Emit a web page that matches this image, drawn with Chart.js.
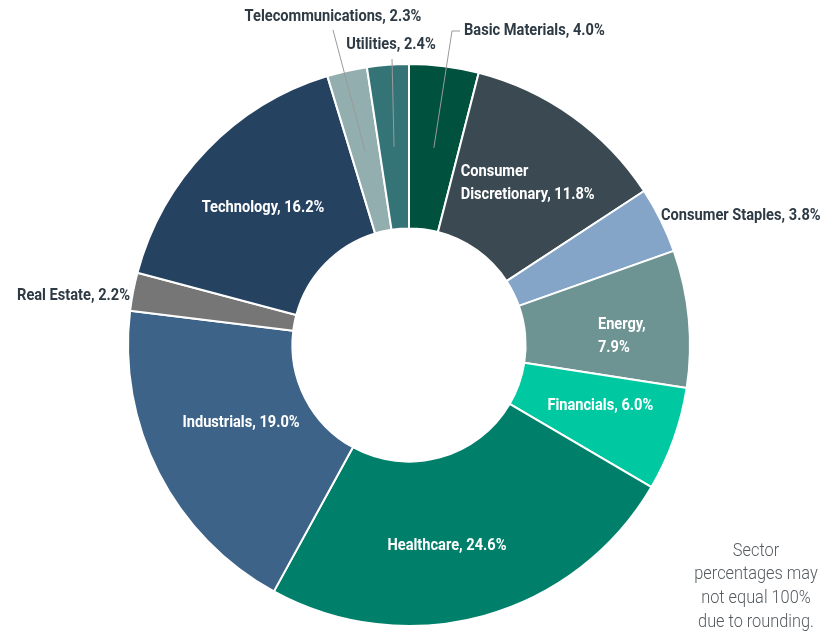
<!DOCTYPE html>
<html>
<head>
<meta charset="utf-8">
<script src="https://cdn.jsdelivr.net/npm/chart.js@4.4.1/dist/chart.umd.min.js"></script>
<style>
  html, body { margin: 0; padding: 0; background: #ffffff; }
  #wrap { width: 835px; height: 633px; position: relative; }
</style>
</head>
<body>
<div id="wrap"><canvas id="c" width="835" height="633"></canvas></div>
<script>
// ---- Data ----
const sectors = ['Basic Materials', 'Consumer Discretionary', 'Consumer Staples', 'Energy', 'Financials',
                 'Healthcare', 'Industrials', 'Real Estate', 'Technology', 'Telecommunications', 'Utilities'];
const weights = [4.0, 11.8, 3.8, 7.9, 6.0, 24.6, 19.0, 2.2, 16.2, 2.3, 2.4];
const sliceColors = ['#00523f', '#3b4a52', '#84a5c8', '#6e9393', '#00c9a2',
                     '#00806a', '#3e6389', '#767676', '#254261', '#93aeae', '#347476'];
const noteLines = ['Sector', 'percentages may', 'not equal 100%', 'due to rounding.'];

// ---- Label layout (presentation only) ----
// inside labels: offset from slice midpoint; outside labels: offset from chart centre
const labelLayout = {
  0: { mode: 'outside', align: 'left', x: 55, y: -314, leader: [[43, -314], [51, -314]] },
  1: { mode: 'inside', align: 'left', dx: -64, dy: -1, split: true },
  2: { mode: 'outside', align: 'left', x: 252, y: -129 },
  3: { mode: 'inside', align: 'left', dx: -9, dy: 9, split: true },
  4: { mode: 'inside', align: 'center', dx: 4, dy: -6 },
  5: { mode: 'inside', align: 'center', dx: -15, dy: 9 },
  6: { mode: 'inside', align: 'center', dx: 9, dy: -13 },
  7: { mode: 'outside', align: 'right', x: -279, y: -49 },
  8: { mode: 'inside', align: 'center', dx: -3, dy: 1 },
  9: { mode: 'outside', align: 'center', x: -76, y: -328, leader: [[-76, -315]] },
  10: { mode: 'outside', align: 'center', x: -18, y: -300, leader: [[-17, -286]] }
};

const SX = 0.86;
function drawText(ctx, text, x, y, align) {
  ctx.save();
  ctx.translate(x, y);
  ctx.scale(SX, 1);
  ctx.textAlign = align;
  ctx.textBaseline = 'middle';
  ctx.fillText(text, 0, 0);
  ctx.restore();
}

const labelPlugin = {
  id: 'sectorLabels',
  afterDatasetsDraw(chart) {
    const ctx = chart.ctx;
    const meta = chart.getDatasetMeta(0);
    const first = meta.data[0];
    const cx = first.x, cy = first.y;
    ctx.save();
    ctx.font = '700 17px Roboto';
    meta.data.forEach((arc, i) => {
      const lay = labelLayout[i];
      const pct = weights[i].toFixed(1) + '%';
      const mid = arc.tooltipPosition();
      if (lay.mode === 'inside') {
        ctx.fillStyle = '#ffffff';
        const x = mid.x + lay.dx, y = mid.y + lay.dy;
        if (lay.split) {
          let l1, l2;
          if (sectors[i] === 'Consumer Discretionary') { l1 = 'Consumer'; l2 = 'Discretionary, ' + pct; }
          else { l1 = sectors[i] + ','; l2 = pct; }
          drawText(ctx, l1, x, y - 11, lay.align);
          drawText(ctx, l2, x, y + 12, lay.align);
        } else {
          drawText(ctx, sectors[i] + ', ' + pct, x, y, lay.align);
        }
      } else {
        if (lay.leader) {
          ctx.strokeStyle = '#9a9a9a';
          ctx.lineWidth = 1;
          ctx.beginPath();
          ctx.moveTo(mid.x, mid.y);
          lay.leader.forEach(p => ctx.lineTo(cx + p[0], cy + p[1]));
          ctx.stroke();
        }
        ctx.fillStyle = '#2e3a44';
        drawText(ctx, sectors[i] + ', ' + pct, cx + lay.x, cy + lay.y, lay.align);
      }
    });
    // note
    ctx.font = '300 19px Roboto';
    ctx.fillStyle = '#555b60';
    noteLines.forEach((t, k) => drawText(ctx, t, 756, 551 + k * 23.7, 'center'));
    ctx.restore();
  }
};

new Chart(document.getElementById('c'), {
  type: 'doughnut',
  data: {
    labels: sectors,
    datasets: [{
      data: weights,
      backgroundColor: sliceColors,
      borderColor: '#ffffff',
      borderWidth: 2,
      hoverOffset: 0,
      offset: 0
    }]
  },
  options: {
    responsive: false,
    animation: false,
    cutout: '41.5%',
    rotation: 0,
    layout: { padding: { top: 63, bottom: 6, left: 127, right: 144 } },
    plugins: { legend: { display: false }, tooltip: { enabled: false } },
    events: []
  },
  plugins: [labelPlugin]
});
</script>
</body>
</html>
